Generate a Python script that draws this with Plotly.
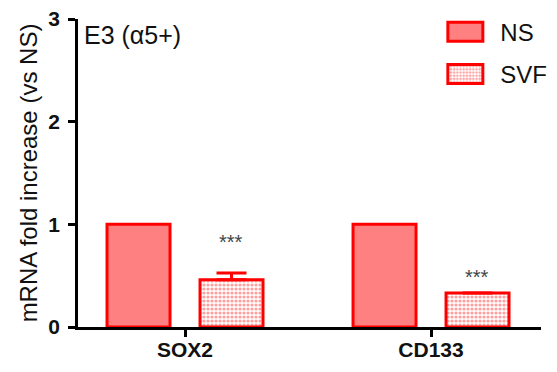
import plotly.graph_objects as go

categories = ["SOX2", "CD133"]
ns_values = [1.0, 1.0]
svf_values = [0.46, 0.33]
svf_err_plus = [0.065, 0.0]
sig_labels = ["***", "***"]
sig_y = [0.83, 0.49]
y_ticks = [0, 1, 2, 3]

RED = "#ff0000"
FONT = "Liberation Sans, Arial, sans-serif"

fig = go.Figure()
fig.add_trace(go.Bar(
    name="NS", x=categories, y=ns_values, legendgroup="ns",
    width=0.256, offset=-0.317,
    marker=dict(color="#ff8080", line=dict(color=RED, width=3)),
))
fig.add_trace(go.Bar(
    name="SVF", x=categories, y=svf_values, legendgroup="svf",
    width=0.256, offset=0.061,
    marker=dict(color="#ffc4c4", line=dict(color=RED, width=3),
                pattern=dict(shape=".", size=4, solidity=0.5,
                             fgcolor="#ffa0a0", bgcolor="#ffffff", fillmode="replace")),
    error_y=dict(type="data", symmetric=False, array=svf_err_plus,
                 arrayminus=[0, 0], color=RED, thickness=3, width=15),
))

for c, s, yv in zip(categories, sig_labels, sig_y):
    fig.add_annotation(x=c, y=yv, text=s, showarrow=False, xshift=46,
                       font=dict(size=20, color="#444444", family=FONT))

fig.add_annotation(xref="paper", yref="paper", x=0.008, y=1.0, xanchor="left", yanchor="top",
                   text="E3 (α5+)", showarrow=False, font=dict(size=25, color="#111111", family=FONT))

fig.update_layout(
    width=557, height=372,
    margin=dict(l=78, r=16, t=19, b=45, autoexpand=False),
    plot_bgcolor="white", paper_bgcolor="white",
    font=dict(family=FONT, color="#111111"),
    showlegend=True,
    legend=dict(x=0.761, y=1.03, xanchor="left", yanchor="top",
                font=dict(size=24, family=FONT), bgcolor="rgba(0,0,0,0)",
                traceorder="grouped", tracegroupgap=8, itemwidth=60),
    xaxis=dict(range=[-0.435, 1.447], showline=True, linecolor="black", linewidth=2.5,
               ticks="outside", ticklen=7, tickwidth=2.5, tickcolor="black", automargin=False,
               ticklabelstandoff=-5,
               tickfont=dict(size=21, family="Liberation Sans, Arial", weight="bold", color="#111111"),
               showgrid=False, zeroline=False),
    yaxis=dict(range=[0, 3], tickvals=y_ticks, showline=True, linecolor="black", linewidth=2.5,
               ticks="outside", ticklen=7, tickwidth=2.5, tickcolor="black", automargin=False,
               ticklabelstandoff=4,
               tickfont=dict(size=21, family="Liberation Sans, Arial", weight="bold", color="#111111"),
               title=dict(text="mRNA fold increase (vs NS)", font=dict(size=24, family=FONT), standoff=4),
               showgrid=False, zeroline=False),
)

post = """
document.body.style.margin = '0';
var gd = document.getElementsByClassName('plotly-graph-div')[0];
function growLegend(){
  var pts = gd.querySelectorAll('.legend .legendpoints path');
  pts.forEach(function(p){
    p.setAttribute('d', 'M17.5,9.5H-17.5V-9.5H17.5Z');
  });
}
growLegend();
gd.on('plotly_afterplot', growLegend);
"""

fig.write_html("out.html", post_script=post, config={"displayModeBar": False})
